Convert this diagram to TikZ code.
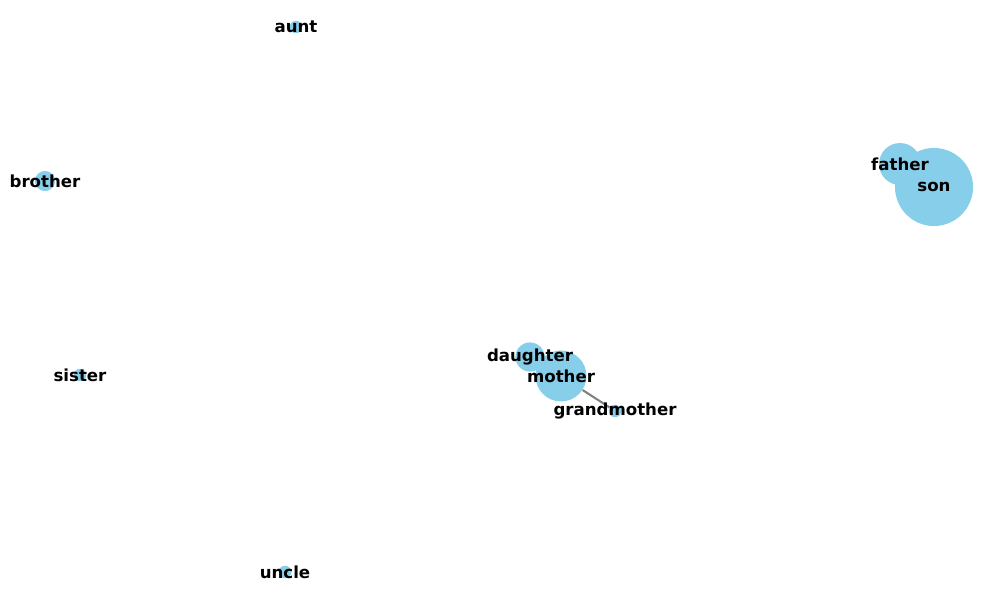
\documentclass[tikz,border=0pt]{standalone}
\usepackage{fontspec}
\setmainfont{DejaVu Sans}
\definecolor{skyblue}{HTML}{87CEEB}

\begin{document}
\begin{tikzpicture}[x=0.254mm,y=-0.254mm,
	vertex/.style={circle,fill=skyblue,inner sep=0pt},
	lbl/.style={font=\bfseries\fontsize{12}{14}\selectfont,text=black,inner sep=0pt}]
	\useasboundingbox (0,0) rectangle (1000,600);
	\node[vertex,minimum size=9bp] (aunt) at (296,27) {};
	\node[vertex,minimum size=14.5bp] (brother) at (45,181) {};
	\node[vertex,minimum size=9bp] (sister) at (80,375) {};
	\node[vertex,minimum size=9bp] (uncle) at (285,572) {};
	\node[vertex,minimum size=9bp] (grandmother) at (615,411) {};
	\node[vertex,minimum size=21bp] (daughter) at (530,357) {};
	\node[vertex,minimum size=36.7bp] (mother) at (561,376) {};
	\node[vertex,minimum size=30.2bp] (father) at (900,164) {};
	\node[vertex,minimum size=56.2bp] (son) at (934,187) {};
	\draw[gray,line width=1.5pt] (mother) -- (grandmother);
	\node[lbl] at (aunt) {aunt};
	\node[lbl] at (brother) {brother};
	\node[lbl] at (sister) {sister};
	\node[lbl] at (uncle) {uncle};
	\node[lbl] at (grandmother) {grandmother};
	\node[lbl] at (daughter) {daughter};
	\node[lbl] at (mother) {mother};
	\node[lbl] at (father) {father};
	\node[lbl] at (son) {son};
\end{tikzpicture}
\end{document}
